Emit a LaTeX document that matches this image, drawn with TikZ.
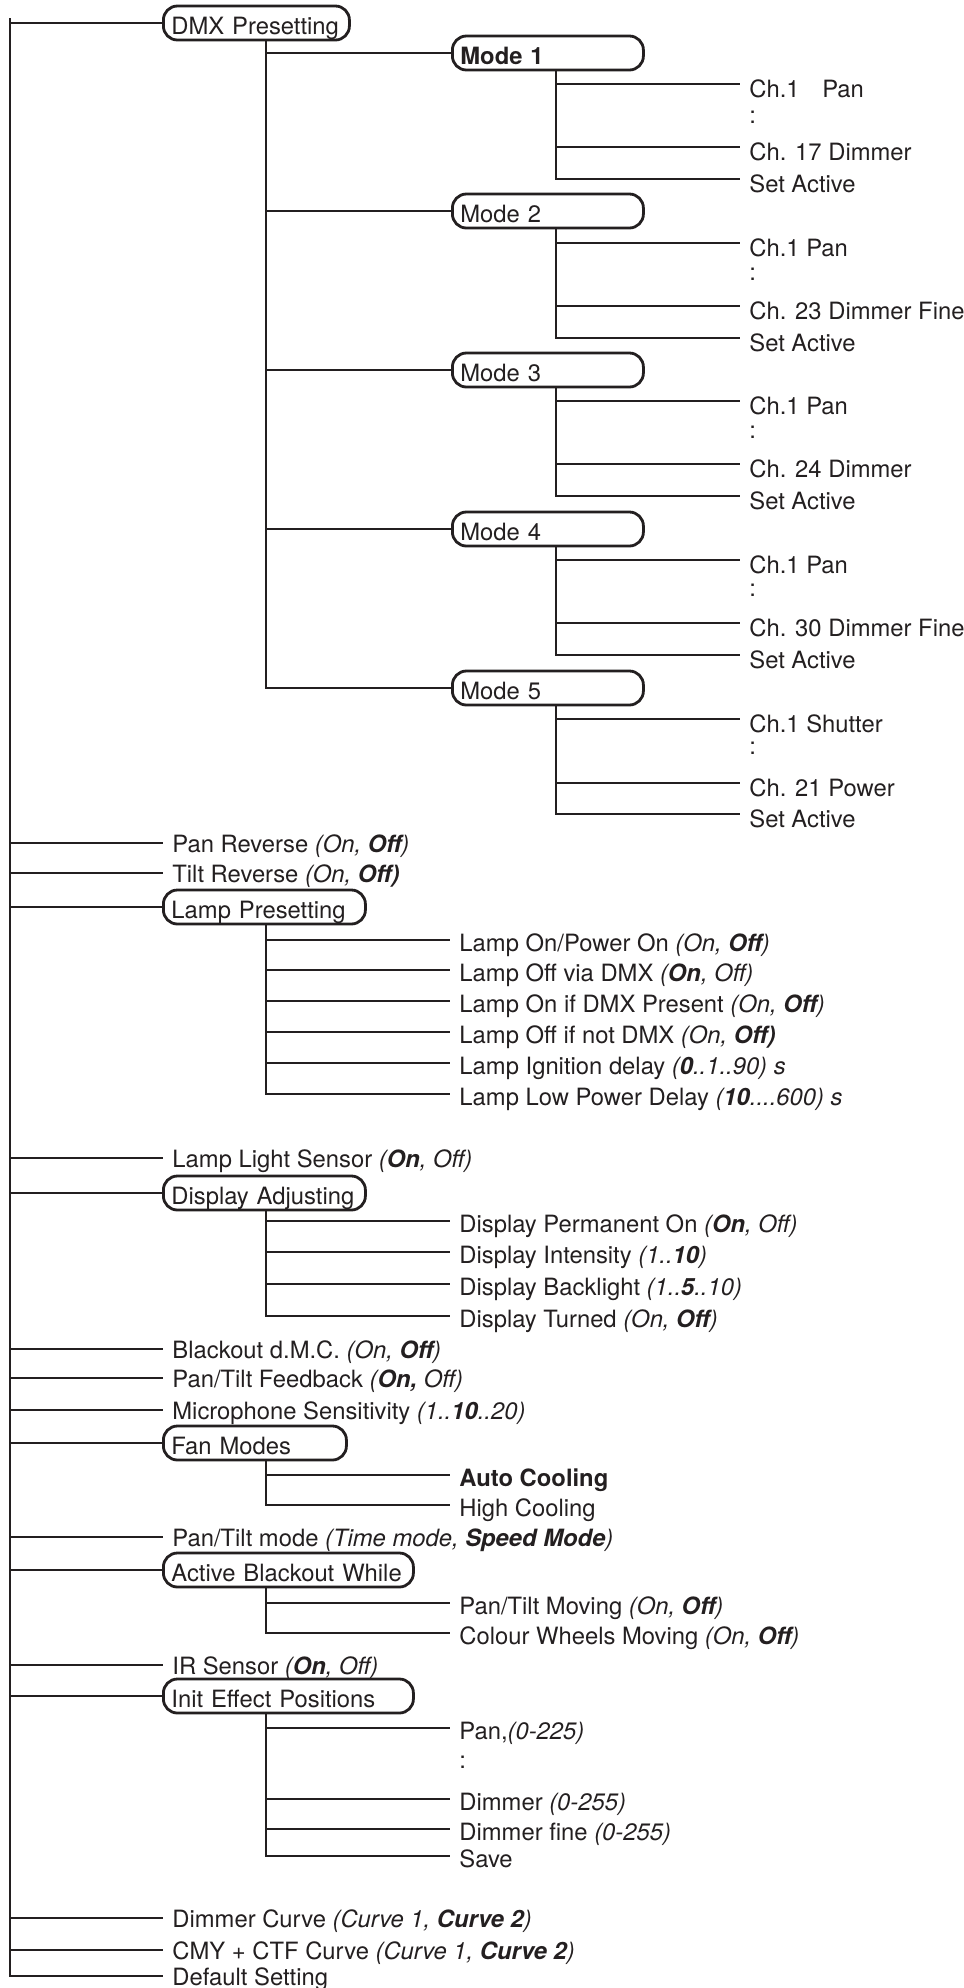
\documentclass[tikz,border=0pt]{standalone}
\usepackage{fontspec}
\setmainfont{TeX Gyre Heros}
\usepackage{tikz}

\definecolor{ink}{RGB}{35,31,32}

\begin{document}
\begin{tikzpicture}[x=0.5pt,y=-0.5pt,
    line width=1.4pt, draw=ink, text=ink,
    item/.style={anchor=west, inner xsep=4pt, inner ysep=3pt,
      text height=11pt, text depth=0pt, font=\fontsize{11.9}{14}\selectfont},
    topitem/.style={item, text height=9pt},
    chanitem/.style={item, text height=13pt},
    menubox/.style={item, draw, rounded corners=7pt, text width=#1, align=left}]
    \useasboundingbox (0,0) rectangle (964,1988);
    \coordinate (top) at (10,18);
    \coordinate (tA) at (266,0);
    \coordinate (tB) at (556,0);

    % first level
    \node[menubox=85pt] (dmx) at (162,23) {DMX Presetting};
    \node[topitem] (panrev) at (163,843) {Pan Reverse \textit{(On, \textbf{Off})}};
    \node[topitem] (tiltrev) at (163,873) {Tilt Reverse \textit{(On, \textbf{Off)}}};
    \node[menubox=93pt] (lamp) at (162,907) {Lamp Presetting};
    \node[topitem] (lls) at (163,1158) {Lamp Light Sensor \textit{(\textbf{On}, Off)}};
    \node[menubox=93pt] (disp) at (162,1193) {Display Adjusting};
    \node[topitem] (bdmc) at (163,1349) {Blackout d.M.C. \textit{(On, \textbf{Off})}};
    \node[topitem] (ptfb) at (163,1378) {Pan/Tilt Feedback \textit{(\textbf{On,} Off)}};
    \node[topitem] (mic) at (163,1410) {Microphone Sensitivity \textit{(1..\textbf{10}..20)}};
    \node[menubox=83.5pt] (fan) at (162,1443) {Fan Modes};
    \node[topitem] (ptmode) at (163,1537) {Pan/Tilt mode \textit{(Time mode, \textbf{Speed Mode})}};
    \node[menubox=117pt] (abw) at (162,1570) {Active Blackout While};
    \node[topitem] (ir) at (163,1665) {IR Sensor \textit{(\textbf{On}, Off)}};
    \node[menubox=117pt] (init) at (162,1696) {Init Effect Positions};
    \node[topitem] (dcurve) at (163,1918) {Dimmer Curve \textit{(Curve 1, \textbf{Curve 2})}};
    \node[topitem] (cmy) at (163,1950) {CMY + CTF Curve \textit{(Curve 1, \textbf{Curve 2})}};
    \node[topitem] (dflt) at (163,1976) {Default Setting};

    \draw (top) |- (dflt.west);
    \draw (top |- dmx.west) -- (dmx.west);
    \draw (top |- panrev.west) -- (panrev.west);
    \draw (top |- tiltrev.west) -- (tiltrev.west);
    \draw (top |- lamp.west) -- (lamp.west);
    \draw (top |- lls.west) -- (lls.west);
    \draw (top |- disp.west) -- (disp.west);
    \draw (top |- bdmc.west) -- (bdmc.west);
    \draw (top |- ptfb.west) -- (ptfb.west);
    \draw (top |- mic.west) -- (mic.west);
    \draw (top |- fan.west) -- (fan.west);
    \draw (top |- ptmode.west) -- (ptmode.west);
    \draw (top |- abw.west) -- (abw.west);
    \draw (top |- ir.west) -- (ir.west);
    \draw (top |- init.west) -- (init.west);
    \draw (top |- dcurve.west) -- (dcurve.west);
    \draw (top |- cmy.west) -- (cmy.west);

    % DMX modes
    \node[menubox=87.5pt] (m1) at (451,53) {\textbf{Mode 1}};
    \node[menubox=87.5pt] (m2) at (451,211) {Mode 2};
    \node[menubox=87.5pt] (m3) at (451,370) {Mode 3};
    \node[menubox=87.5pt] (m4) at (451,529) {Mode 4};
    \node[menubox=87.5pt] (m5) at (451,688) {Mode 5};
    \draw (dmx.south -| tA) |- (m5.west);
    \draw (tA |- m1.west) -- (m1.west);
    \draw (tA |- m2.west) -- (m2.west);
    \draw (tA |- m3.west) -- (m3.west);
    \draw (tA |- m4.west) -- (m4.west);

    \node[chanitem] (m1a) at (740,84) {Ch.1\hspace{0.95em}Pan};
    \node[chanitem] (m1b) at (740,110) {:};
    \node[chanitem] (m1c) at (740,147) {Ch. 17 Dimmer};
    \node[chanitem] (m1d) at (740,179) {Set Active};
    \draw (m1.south -| tB) |- (m1d.west);
    \draw (tB |- m1a.west) -- (m1a.west);
    \draw (tB |- m1c.west) -- (m1c.west);

    \node[chanitem] (m2a) at (740,243) {Ch.1 Pan};
    \node[chanitem] (m2b) at (740,267) {:};
    \node[chanitem] (m2c) at (740,306) {Ch. 23 Dimmer Fine};
    \node[chanitem] (m2d) at (740,338) {Set Active};
    \draw (m2.south -| tB) |- (m2d.west);
    \draw (tB |- m2a.west) -- (m2a.west);
    \draw (tB |- m2c.west) -- (m2c.west);

    \node[chanitem] (m3a) at (740,401) {Ch.1 Pan};
    \node[chanitem] (m3b) at (740,425) {:};
    \node[chanitem] (m3c) at (740,464) {Ch. 24 Dimmer};
    \node[chanitem] (m3d) at (740,496) {Set Active};
    \draw (m3.south -| tB) |- (m3d.west);
    \draw (tB |- m3a.west) -- (m3a.west);
    \draw (tB |- m3c.west) -- (m3c.west);

    \node[chanitem] (m4a) at (740,560) {Ch.1 Pan};
    \node[chanitem] (m4b) at (740,583) {:};
    \node[chanitem] (m4c) at (740,623) {Ch. 30 Dimmer Fine};
    \node[chanitem] (m4d) at (740,655) {Set Active};
    \draw (m4.south -| tB) |- (m4d.west);
    \draw (tB |- m4a.west) -- (m4a.west);
    \draw (tB |- m4c.west) -- (m4c.west);

    \node[chanitem] (m5a) at (740,719) {Ch.1 Shutter};
    \node[chanitem] (m5b) at (740,741) {:};
    \node[chanitem] (m5c) at (740,783) {Ch. 21 Power};
    \node[chanitem] (m5d) at (740,814) {Set Active};
    \draw (m5.south -| tB) |- (m5d.west);
    \draw (tB |- m5a.west) -- (m5a.west);
    \draw (tB |- m5c.west) -- (m5c.west);

    % lamp presetting
    \node[item] (l1) at (450,940) {Lamp On/Power On \textit{(On, \textbf{Off})}};
    \node[item] (l2) at (450,970) {Lamp Off via DMX \textit{(\textbf{On}, Off)}};
    \node[item] (l3) at (450,1001) {Lamp On if DMX Present \textit{(On, \textbf{Off})}};
    \node[item] (l4) at (450,1032) {Lamp Off if not DMX \textit{(On, \textbf{Off)}}};
    \node[item] (l5) at (450,1063) {Lamp Ignition delay \textit{(\textbf{0}..1..90) s}};
    \node[item] (l6) at (450,1094) {Lamp Low Power Delay \textit{(\textbf{10}....600) s}};
    \draw (lamp.south -| tA) |- (l6.west);
    \draw (tA |- l1.west) -- (l1.west);
    \draw (tA |- l2.west) -- (l2.west);
    \draw (tA |- l3.west) -- (l3.west);
    \draw (tA |- l4.west) -- (l4.west);
    \draw (tA |- l5.west) -- (l5.west);

    % display adjusting
    \node[item] (d1) at (450,1221) {Display Permanent On \textit{(\textbf{On}, Off)}};
    \node[item] (d2) at (450,1252) {Display Intensity \textit{(1..\textbf{10})}};
    \node[item] (d3) at (450,1284) {Display Backlight \textit{(1..\textbf{5}..10)}};
    \node[item] (d4) at (450,1316) {Display Turned \textit{(On, \textbf{Off})}};
    \draw (disp.south -| tA) |- (d4.west);
    \draw (tA |- d1.west) -- (d1.west);
    \draw (tA |- d2.west) -- (d2.west);
    \draw (tA |- d3.west) -- (d3.west);

    % fan modes
    \node[item] (f1) at (450,1475) {\textbf{Auto Cooling}};
    \node[item] (f2) at (450,1505) {High Cooling};
    \draw (fan.south -| tA) |- (f2.west);
    \draw (tA |- f1.west) -- (f1.west);

    % active blackout
    \node[item] (a1) at (450,1603) {Pan/Tilt Moving \textit{(On, \textbf{Off})}};
    \node[item] (a2) at (450,1633) {Colour Wheels Moving \textit{(On, \textbf{Off})}};
    \draw (abw.south -| tA) |- (a2.west);
    \draw (tA |- a1.west) -- (a1.west);

    % init effect positions
    \node[item] (i1) at (450,1728) {Pan,\textit{(0-225)}};
    \node[item] (i2) at (450,1757) {:};
    \node[item] (i3) at (450,1799) {Dimmer \textit{(0-255)}};
    \node[item] (i4) at (450,1829) {Dimmer fine \textit{(0-255)}};
    \node[item] (i5) at (450,1856) {Save};
    \draw (init.south -| tA) |- (i5.west);
    \draw (tA |- i1.west) -- (i1.west);
    \draw (tA |- i3.west) -- (i3.west);
    \draw (tA |- i4.west) -- (i4.west);
  \end{tikzpicture}
\end{document}
